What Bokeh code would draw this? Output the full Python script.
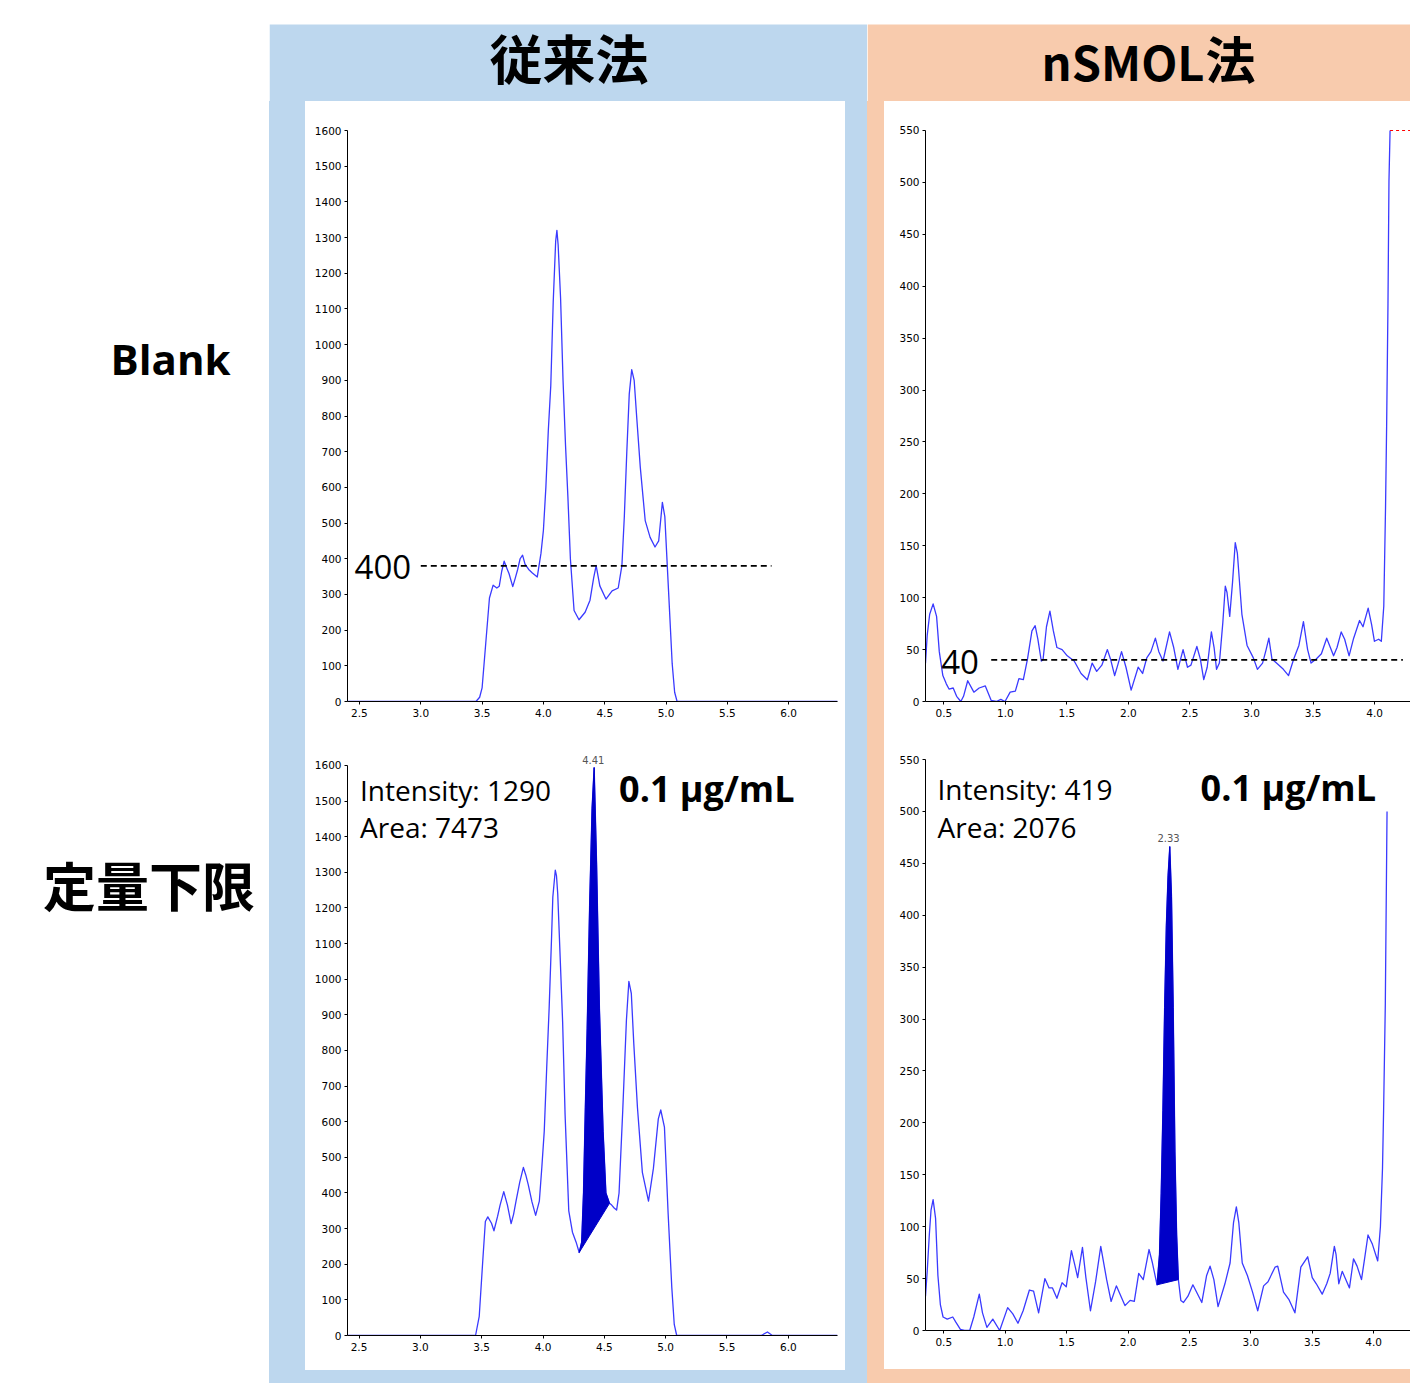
from bokeh.plotting import figure
from bokeh.layouts import row, column
from bokeh.models import Range1d, FixedTicker, PrintfTickFormatter, Label, Spacer, BoxAnnotation
from bokeh.embed import file_html
from bokeh.resources import INLINE

# ---------------- data ----------------
col_titles = ["従来法", "nSMOL", "法"]
row_titles = ["Blank", "定量下限"]

x_ticks_conv = [2.5, 3.0, 3.5, 4.0, 4.5, 5.0, 5.5, 6.0]
y_ticks_conv = list(range(0, 1601, 100))
x_ticks_nsmol = [0.5, 1.0, 1.5, 2.0, 2.5, 3.0, 3.5, 4.0]
y_ticks_nsmol = list(range(0, 551, 50))

# conventional method, blank
t_blank_conv = [2.40, 3.45, 3.48, 3.50, 3.53, 3.56, 3.59, 3.62, 3.64, 3.66,
                3.68, 3.70, 3.72, 3.75, 3.77, 3.79, 3.81, 3.83, 3.85, 3.88,
                3.91, 3.95, 3.98, 4.00, 4.02, 4.04, 4.06, 4.08, 4.10, 4.11,
                4.12, 4.14, 4.16, 4.18, 4.20, 4.22, 4.25, 4.29, 4.34, 4.38,
                4.41, 4.43, 4.46, 4.51, 4.56, 4.61, 4.64, 4.66, 4.68, 4.70,
                4.72, 4.74, 4.76, 4.79, 4.83, 4.87, 4.91, 4.94, 4.97, 4.99,
                5.02, 5.05, 5.07, 5.09, 6.40]
i_blank_conv = [0, 0, 12, 38, 164, 290, 326, 318, 323, 365,
                393, 375, 358, 322, 345, 370, 400, 410, 385, 370,
                360, 349, 415, 480, 600, 760, 885, 1120, 1290, 1320,
                1280, 1130, 900, 720, 570, 400, 255, 229, 250, 284,
                347, 381, 324, 287, 310, 318, 381, 520, 700, 862,
                930, 900, 800, 656, 507, 460, 433, 450, 558, 518,
                312, 106, 26, 0, 0]

# conventional method, LOQ
t_loq_conv = [2.40, 3.45, 3.48, 3.51, 3.53, 3.55, 3.58, 3.60, 3.63, 3.65,
              3.68, 3.71, 3.74, 3.76, 3.78, 3.81, 3.84, 3.86, 3.88, 3.91,
              3.94, 3.97, 3.99, 4.01, 4.03, 4.05, 4.07, 4.08, 4.10, 4.11,
              4.12, 4.14, 4.16, 4.18, 4.21, 4.24, 4.27, 4.295, 4.315, 4.33,
              4.345, 4.36, 4.38, 4.40, 4.417, 4.437, 4.46, 4.49, 4.513, 4.542,
              4.56, 4.58, 4.60, 4.62, 4.65, 4.68, 4.70, 4.72, 4.74, 4.77,
              4.81, 4.86, 4.90, 4.94, 4.96, 4.99, 5.02, 5.05, 5.07, 5.09,
              5.78, 5.83, 5.87, 6.40]
i_loq_conv = [0, 0, 54, 216, 320, 333, 315, 294, 335, 366,
              404, 366, 314, 340, 377, 430, 472, 450, 423, 375,
              337, 377, 470, 573, 750, 919, 1120, 1231, 1306, 1290,
              1240, 1060, 880, 620, 350, 290, 262, 233, 262, 400,
              640, 862, 1208, 1480, 1594, 1323, 919, 573, 400, 371,
              366, 358, 352, 400, 631, 885, 994, 960, 820, 640,
              458, 377, 469, 608, 633, 585, 343, 135, 31, 0,
              0, 10, 0, 0]

# nSMOL method, blank
t_blank_nsmol = [0.351, 0.365, 0.385, 0.413, 0.441, 0.463, 0.492, 0.520, 0.542, 0.576,
                 0.604, 0.638, 0.660, 0.694, 0.744, 0.787, 0.837, 0.885, 0.927, 0.963,
                 0.997, 1.039, 1.081, 1.110, 1.146, 1.180, 1.216, 1.242, 1.264, 1.292,
                 1.306, 1.334, 1.362, 1.390, 1.419, 1.461, 1.503, 1.559, 1.615, 1.666,
                 1.705, 1.742, 1.784, 1.829, 1.854, 1.888, 1.913, 1.944, 1.980, 2.022,
                 2.079, 2.115, 2.149, 2.183, 2.219, 2.247, 2.281, 2.334, 2.368, 2.402,
                 2.444, 2.480, 2.508, 2.556, 2.584, 2.612, 2.640, 2.674, 2.696, 2.716,
                 2.739, 2.767, 2.787, 2.801, 2.823, 2.846, 2.868, 2.885, 2.922, 2.964,
                 3.015, 3.048, 3.090, 3.119, 3.141, 3.166, 3.203, 3.259, 3.301, 3.343,
                 3.385, 3.422, 3.456, 3.484, 3.526, 3.568, 3.611, 3.667, 3.695, 3.729,
                 3.757, 3.793, 3.830, 3.878, 3.906, 3.948, 3.976, 3.999, 4.033, 4.055,
                 4.075, 4.089, 4.098, 4.109, 4.117, 4.126]
i_blank_nsmol = [37, 64, 84, 94, 82, 48, 25, 17, 12, 13,
                 5, 0, 5, 20, 9, 13, 15, 1, 0, 2,
                 0, 9, 10, 22, 21, 41, 68, 73, 60, 39,
                 40, 72, 87, 68, 52, 50, 44, 39, 27, 21,
                 37, 29, 35, 50, 41, 25, 35, 48, 33, 11,
                 33, 27, 42, 48, 61, 48, 39, 67, 52, 31,
                 50, 33, 35, 53, 41, 21, 33, 67, 52, 31,
                 37, 76, 111, 105, 82, 115, 153, 143, 84, 54,
                 42, 31, 37, 50, 61, 41, 37, 31, 25, 41,
                 54, 77, 50, 37, 41, 46, 61, 44, 52, 67,
                 60, 44, 61, 78, 72, 90, 74, 58, 60, 58,
                 92, 186, 265, 383, 501, 550]

# nSMOL method, LOQ
t_loq_nsmol = [0.351, 0.365, 0.382, 0.396, 0.413, 0.433, 0.452, 0.472, 0.494, 0.528,
               0.573, 0.598, 0.635, 0.669, 0.711, 0.744, 0.789, 0.815, 0.851, 0.899,
               0.955, 1.020, 1.062, 1.104, 1.146, 1.197, 1.231, 1.272, 1.323, 1.357,
               1.385, 1.421, 1.463, 1.497, 1.539, 1.567, 1.590, 1.629, 1.657, 1.694,
               1.736, 1.778, 1.826, 1.862, 1.905, 1.975, 2.017, 2.051, 2.087, 2.124,
               2.171, 2.199, 2.236, 2.256, 2.270, 2.284, 2.298, 2.312, 2.326, 2.340,
               2.354, 2.368, 2.382, 2.396, 2.410, 2.430, 2.452, 2.488, 2.528, 2.601,
               2.640, 2.668, 2.699, 2.733, 2.789, 2.831, 2.859, 2.882, 2.902, 2.930,
               2.972, 3.014, 3.056, 3.104, 3.140, 3.197, 3.219, 3.266, 3.309, 3.359,
               3.407, 3.463, 3.500, 3.533, 3.581, 3.618, 3.646, 3.680, 3.694, 3.716,
               3.744, 3.803, 3.836, 3.865, 3.901, 3.926, 3.954, 3.990, 4.033, 4.055,
               4.072, 4.081, 4.095, 4.106, 4.109]
i_loq_nsmol = [33, 57, 92, 116, 126, 108, 53, 25, 13, 11,
               13, 8, 1, 0, 0, 13, 35, 17, 3, 11,
               0, 22, 16, 7, 19, 39, 38, 17, 50, 41,
               41, 31, 46, 42, 77, 63, 51, 80, 51, 19,
               47, 81, 49, 28, 43, 24, 29, 28, 55, 49,
               78, 65, 44, 73, 132, 212, 311, 390, 438, 466,
               418, 311, 172, 92, 49, 29, 27, 33, 44, 27,
               53, 62, 49, 23, 45, 65, 104, 119, 104, 65,
               53, 37, 19, 43, 47, 61, 62, 37, 30, 17,
               61, 71, 51, 45, 35, 45, 55, 81, 73, 45,
               57, 41, 69, 62, 49, 69, 92, 83, 67, 100,
               156, 212, 315, 461, 500]

# integration windows and peak annotations
peak_window_conv = [4.295, 4.542]
peak_window_nsmol = [2.236, 2.410]
peak_rt = [4.41, 2.33]
peak_label_y = [1616, 474]
loq_intensity = [1290, 419]
loq_area = [7473, 2076]
loq_conc = "0.1 μg/mL"

# blank thresholds (label, drawn level, x extent)
thr_labels = [400, 40]
thr_levels = [380, 40]
thr_x_conv = [3.00, 5.86]
thr_x_nsmol = [0.885, 4.23]
sat_x_nsmol = [4.126, 4.30]
sat_level_nsmol = 550

# ---------------- style ----------------
BLUE = "#BDD7EE"
ORANGE = "#F8CBAD"
TRACE = "#3A3AFF"
FILL = "#0000C8"
TICK_FONT = "DejaVu Sans"
CJK = "Noto Sans CJK JP"


def text_fig(w, h, color):
    p = figure(width=w, height=h, x_range=Range1d(0, w), y_range=Range1d(h, 0),
               toolbar_location=None, output_backend="svg", min_border=0,
               x_axis_type=None, y_axis_type=None,
               background_fill_color=color, border_fill_color=color,
               outline_line_color=None)
    p.grid.visible = False
    return p


def chrom(w, h, bl, br, bt, bb, xr, yr, xt, yt, ybound):
    p = figure(width=w, height=h, x_range=Range1d(*xr), y_range=Range1d(*yr),
               toolbar_location=None, output_backend="svg",
               min_border_left=bl, min_border_right=br,
               min_border_top=bt, min_border_bottom=bb,
               background_fill_color=None, border_fill_color="white",
               outline_line_color=None)
    p.grid.visible = False
    for ax in (p.xaxis[0], p.yaxis[0]):
        ax.axis_line_color = "black"
        ax.axis_line_width = 1
        ax.major_tick_line_color = "black"
        ax.major_tick_in = 0
        ax.major_tick_out = 3
        ax.minor_tick_line_color = None
        ax.major_label_text_font = TICK_FONT
        ax.major_label_text_font_size = "10.5px"
        ax.major_label_text_color = "#000000"
    p.xaxis[0].ticker = FixedTicker(ticks=xt)
    p.xaxis[0].formatter = PrintfTickFormatter(format="%.1f")
    p.xaxis[0].major_label_standoff = 4
    p.yaxis[0].ticker = FixedTicker(ticks=yt)
    p.yaxis[0].major_label_standoff = 3
    p.yaxis[0].bounds = ybound
    return p


def add_trace(p, t, i):
    p.line(t, i, line_color=TRACE, line_width=1.3, line_join="round")


def add_peak_fill(p, t, i, window):
    xs = [a for a in t if window[0] <= a <= window[1]]
    ys = [b for a, b in zip(t, i) if window[0] <= a <= window[1]]
    p.patch(xs, ys, fill_color=FILL, line_color=FILL, line_width=1)


def add_loq_text(p, x_left, x_conc, y1, y2, y3, k):
    p.add_layout(Label(x=x_left, y=y1, text=f"Intensity: {loq_intensity[k]}",
                       text_font="Open Sans", text_font_size="28px",
                       text_color="black", text_baseline="middle"))
    p.add_layout(Label(x=x_left, y=y2, text=f"Area: {loq_area[k]}",
                       text_font="Open Sans", text_font_size="28px",
                       text_color="black", text_baseline="middle"))
    p.add_layout(Label(x=x_conc, y=y3, text=loq_conc,
                       text_font="Open Sans", text_font_style="bold",
                       text_font_size="36px", text_color="black",
                       text_baseline="middle"))
    p.add_layout(Label(x=peak_rt[k], y=peak_label_y[k],
                       text=f"{peak_rt[k]:.2f}", text_font=TICK_FONT,
                       text_font_size="10px", text_color="#555555",
                       text_align="center", text_baseline="middle"))


# ---------------- charts ----------------
tl = chrom(540, 636, 40, 8, 29, 36, (2.4025, 6.398), (0, 1600),
           x_ticks_conv, y_ticks_conv, (0, 1600))
add_trace(tl, t_blank_conv, i_blank_conv)
tl.line(thr_x_conv, [thr_levels[0]] * 2, line_color="black", line_width=1.8, line_dash="6 4")
tl.add_layout(Label(x=2.46, y=thr_levels[0] - 4, text=str(thr_labels[0]),
                    text_font="Open Sans", text_font_size="33px",
                    text_color="black", text_baseline="middle"))

bl = chrom(540, 633, 42, 7, 12, 35, (2.406, 6.401), (0, 1644.9),
           x_ticks_conv, y_ticks_conv, (0, 1600))
add_trace(bl, t_loq_conv, i_loq_conv)
add_peak_fill(bl, t_loq_conv, i_loq_conv, peak_window_conv)
add_loq_text(bl, 2.508, 4.62, 1531, 1427, 1536, 0)

tr = chrom(526, 636, 41, 0, 25, 36, (0.351, 4.292), (0, 553.85),
           x_ticks_nsmol, y_ticks_nsmol, (0, 550))
add_trace(tr, t_blank_nsmol, i_blank_nsmol)
tr.line(sat_x_nsmol, [sat_level_nsmol] * 2, line_color="#FF0000", line_width=1.2, line_dash="3 3")
tr.line(thr_x_nsmol, [thr_levels[1]] * 2, line_color="black", line_width=1.8, line_dash="6 4")
tr.add_layout(Label(x=0.479, y=thr_levels[1] - 2, text=str(thr_labels[1]),
                    text_font="Open Sans", text_font_size="33px",
                    text_color="black", text_baseline="middle"))

br = chrom(526, 632, 40, 0, 22, 39, (0.351, 4.300), (0, 550),
           x_ticks_nsmol, y_ticks_nsmol, (0, 550))
add_trace(br, t_loq_nsmol, i_loq_nsmol)
add_peak_fill(br, t_loq_nsmol, i_loq_nsmol, peak_window_nsmol)
add_loq_text(br, 0.449, 2.591, 521.6, 485, 523, 1)


# ---------------- headers and row labels ----------------
def header(w, color):
    p = text_fig(w, 101, "white")
    p.add_layout(BoxAnnotation(top=24, bottom=101, fill_color=color, fill_alpha=1.0,
                               line_color=None, line_alpha=0))
    return p


def title_label(x, y, text, size, align):
    return Label(x=x, y=y, text=text, text_font=CJK, text_font_style="bold",
                 text_font_size=size, text_color="black", text_align=align,
                 text_baseline="middle")


hdr_blue = header(598, BLUE)
hdr_blue.add_layout(title_label(299.5, 56.5, col_titles[0], "53px", "center"))
hdr_orange = header(543, ORANGE)
hdr_orange.add_layout(title_label(337, 60, col_titles[1], "47px", "right"))
hdr_orange.add_layout(title_label(338, 56.5, col_titles[2], "50px", "left"))

labels = text_fig(269, 1383, "white")
labels.add_layout(Label(x=170, y=358, text=row_titles[0], text_font="Open Sans",
                        text_font_style="bold", text_font_size="42px",
                        text_color="black", text_align="center",
                        text_baseline="middle"))
labels.add_layout(Label(x=148.5, y=883, text=row_titles[1], text_font=CJK,
                        text_font_style="bold", text_font_size="53px",
                        text_color="black", text_align="center",
                        text_baseline="middle"))

blue_body = column(
    row(Spacer(width=36, height=1269),
        column(tl, bl, styles={"background-color": "white"}),
        Spacer(width=22, height=1269)),
    Spacer(width=598, height=13),
    styles={"background-color": BLUE},
)
orange_body = column(
    row(Spacer(width=17, height=1268),
        column(tr, br, styles={"background-color": "white"})),
    Spacer(width=543, height=14),
    styles={"background-color": ORANGE},
)
blue_col = column(hdr_blue, blue_body)
orange_col = column(hdr_orange, orange_body)

root = row(labels, blue_col, orange_col)
open("out.html", "w").write(file_html(root, INLINE, "chromatograms"))
